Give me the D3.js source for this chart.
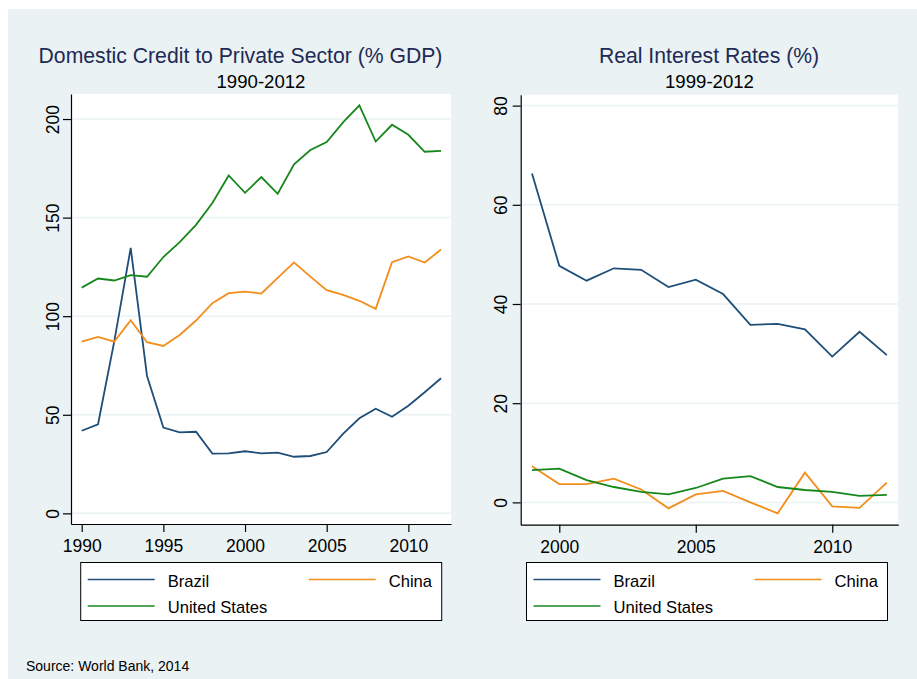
<!DOCTYPE html>
<html>
<head>
<meta charset="utf-8">
<script src="https://cdn.jsdelivr.net/npm/d3@7"></script>
<style>
  body { margin: 0; background: #fff; }
  svg text { font-family: "Liberation Sans", Arial, sans-serif; }
</style>
</head>
<body>
<svg id="chart" width="917" height="679"></svg>
<script>
// --- data ---
const creditYears = d3.range(1990, 2013)
const creditBrazil = [41.9, 45.2, 87.5, 134.6, 69.7, 43.5, 41.1, 41.4, 30.3, 30.4, 31.5, 30.4,
  30.8, 28.7, 29.1, 31.1, 40.3, 48.2, 53.1, 49.0, 54.6, 61.4, 68.5]
const creditChina = [87.1, 89.5, 87.1, 98.0, 86.8, 84.9, 90.5, 97.8, 106.6, 111.7, 112.5, 111.5,
  119.4, 127.3, 120.1, 113.2, 110.8, 107.8, 103.7, 127.4, 130.3, 127.2, 133.8]
const creditUS = [114.5, 119.1, 118.1, 120.8, 120.0, 130.0, 137.6, 146.3, 157.4, 171.4, 162.6, 170.6,
  162.1, 177.0, 184.3, 188.3, 198.3, 206.9, 188.6, 197.1, 192.0, 183.4, 183.9]

const rateYears = d3.range(1999, 2013)
const rateBrazil = [66.3, 47.7, 44.7, 47.2, 46.9, 43.4, 44.9, 42.0, 35.8, 36.0, 34.9, 29.4, 34.4, 29.7]
const rateChina = [7.3, 3.7, 3.7, 4.8, 2.6, -1.2, 1.6, 2.3, 0.0, -2.2, 6.0, -0.8, -1.1, 4.0]
const rateUS = [6.5, 6.8, 4.5, 3.1, 2.1, 1.6, 2.9, 4.8, 5.3, 3.1, 2.5, 2.1, 1.3, 1.5]

const countries = ["Brazil", "China", "United States"]
const creditTicksX = [1990, 1995, 2000, 2005, 2010]
const creditTicksY = [0, 50, 100, 150, 200]
const rateTicksX = [2000, 2005, 2010]
const rateTicksY = [0, 20, 40, 60, 80]

const colors = {"Brazil": "#1f4e79", "China": "#f28e1c", "United States": "#17871b"}
const bg = "#eaf2f3"

const svg = d3.select("#chart")
svg.append("rect")
  .attr("x", 8).attr("y", 9)
  .attr("width", 917 - 8).attr("height", 679 - 9)
  .attr("fill", bg)

function drawPanel(cfg) {
  const x = d3.scaleLinear().domain(cfg.xDomain).range([cfg.left, cfg.right])
  const y = d3.scaleLinear().domain(cfg.yDomain).range([cfg.bottom, cfg.top])

  svg.append("rect")
    .attr("x", cfg.left).attr("y", cfg.top)
    .attr("width", cfg.right - cfg.left).attr("height", cfg.bottom - cfg.top)
    .attr("fill", "#fff")

  // grid
  svg.append("g")
    .selectAll("line")
    .data(cfg.yTicks)
    .join("line")
    .attr("x1", cfg.left).attr("x2", cfg.right)
    .attr("y1", d => y(d)).attr("y2", d => y(d))
    .attr("stroke", bg).attr("stroke-width", 1.5)

  // series
  const line = d3.line().x(d => x(d[0])).y(d => y(d[1]))
  cfg.series.forEach((vals, i) => {
    svg.append("path")
      .datum(cfg.years.map((yr, j) => [yr, vals[j]]))
      .attr("fill", "none")
      .attr("stroke", colors[countries[i]])
      .attr("stroke-width", 1.8)
      .attr("stroke-linejoin", "miter")
      .attr("d", line)
  })

  // axes
  const xAxis = svg.append("g")
    .attr("transform", `translate(0,${cfg.bottom})`)
    .call(d3.axisBottom(x).tickValues(cfg.xTicks).tickSize(8).tickSizeOuter(0).tickFormat(d3.format("d")))
  const yAxis = svg.append("g")
    .attr("transform", `translate(${cfg.left},0)`)
    .call(d3.axisLeft(y).tickValues(cfg.yTicks).tickSize(8).tickSizeOuter(0).tickFormat(d3.format("d")))

  ;[xAxis, yAxis].forEach(a => {
    a.select(".domain").attr("stroke", "#000").attr("stroke-width", 1.2)
    a.selectAll(".tick line").attr("stroke", "#000").attr("stroke-width", 1.2)
    a.selectAll(".tick text").attr("font-size", 17.5).attr("fill", "#000")
      .attr("font-family", "Liberation Sans, Arial, sans-serif")
  })
  xAxis.selectAll(".tick text").attr("y", 28).attr("dy", 0)
  yAxis.selectAll(".tick text")
    .attr("x", 0).attr("y", cfg.labelGap).attr("dy", 0)
    .attr("text-anchor", "middle")
    .attr("transform", "rotate(-90)")

  // titles
  svg.append("text")
    .attr("x", cfg.titleX).attr("y", 63)
    .attr("text-anchor", "middle")
    .attr("font-size", 21.2).attr("fill", "#1e2a55")
    .text(cfg.title)
  svg.append("text")
    .attr("x", (cfg.left + cfg.right) / 2).attr("y", 87.5)
    .attr("text-anchor", "middle")
    .attr("font-size", 18.6).attr("fill", "#000")
    .text(cfg.subtitle)

  // legend
  const lg = svg.append("g").attr("transform", `translate(${cfg.legendX},562.5)`)
  lg.append("rect")
    .attr("width", 361).attr("height", 58)
    .attr("fill", "#fff").attr("stroke", "#000").attr("stroke-width", 1)
  const slots = [[7, 17, 87], [228, 17, 308], [7, 43.5, 87]]
  countries.forEach((c, i) => {
    const [lx, ly, tx] = slots[i]
    lg.append("line")
      .attr("x1", lx).attr("x2", lx + 67)
      .attr("y1", ly).attr("y2", ly)
      .attr("stroke", colors[c]).attr("stroke-width", 1.5)
    lg.append("text")
      .attr("x", tx).attr("y", ly + 7)
      .attr("font-size", 16.6).attr("fill", "#000")
      .text(c)
  })
}

drawPanel({
  title: "Domestic Credit to Private Sector (% GDP)", subtitle: "1990-2012",
  titleX: 240.5,
  years: creditYears, series: [creditBrazil, creditChina, creditUS],
  xDomain: [1989.345, 2012.61], yDomain: [-5.4, 212.7],
  left: 71, right: 451, top: 94, bottom: 524,
  xTicks: creditTicksX, yTicks: creditTicksY,
  labelGap: -12.5, legendX: 80.7
})

drawPanel({
  title: "Real Interest Rates (%)", subtitle: "1999-2012",
  titleX: 709,
  years: rateYears, series: [rateBrazil, rateChina, rateUS],
  xDomain: [1998.586, 2012.42], yDomain: [-4.5, 82.2],
  left: 520.7, right: 898.3, top: 94.7, bottom: 524.7,
  xTicks: rateTicksX, yTicks: rateTicksY,
  labelGap: -13.5, legendX: 526.5
})

svg.append("text")
  .attr("x", 26).attr("y", 671)
  .attr("font-size", 14).attr("fill", "#000")
  .text("Source: World Bank, 2014")
</script>
</body>
</html>
